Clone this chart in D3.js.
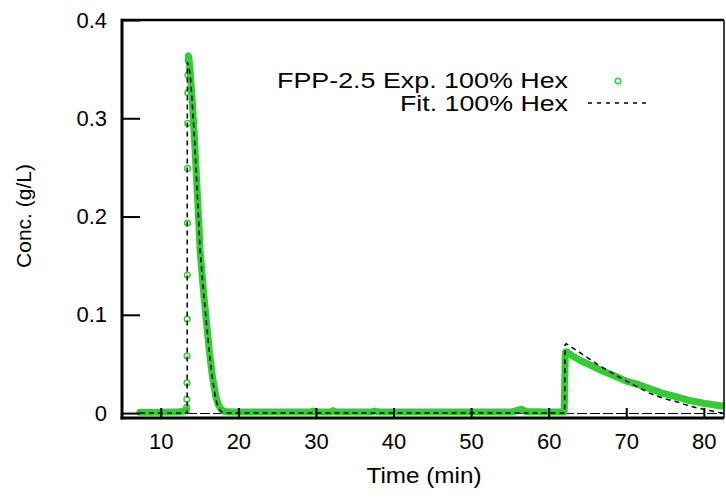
<!DOCTYPE html>
<html>
<head>
<meta charset="utf-8">
<script src="https://cdn.jsdelivr.net/npm/d3@7"></script>
<style>
  html, body { margin: 0; padding: 0; background: #fff; }
  svg { display: block; font-family: "Liberation Sans", Arial, Helvetica, sans-serif; }
</style>
</head>
<body>
<svg id="chart" width="726" height="499"></svg>
<script>
// ---- Data ----
// Experimental trace (dense samples that render as a thick band)
const expTime = [7.3, 8.5, 10.0, 11.5, 12.3, 12.8, 13.1, 13.3,
  13.55, 13.62, 13.8, 14.05, 14.35, 14.6, 14.86, 15.07, 15.46, 15.87, 16.3, 16.71, 17.09, 17.4, 17.74, 18.2,
  19.0, 25.0, 29.3, 29.7, 30.1, 31.8, 32.2, 32.6, 37.0, 37.6, 38.3, 45.0, 50.0, 55.2, 56.0, 56.5, 57.1, 60.0,
  62.0, 62.05, 62.1, 62.15, 62.3, 63.2, 64.2, 65.3, 66.9, 68.6, 70.0, 71.4, 73.0, 74.8, 76.5, 78.2, 80.0, 81.9, 82.6];
const expConc = [0.0008, 0.0008, 0.0008, 0.001, 0.0012, 0.0018, 0.0025, 0.003,
  0.3635, 0.362, 0.346, 0.318, 0.279, 0.240, 0.200, 0.165, 0.128, 0.094, 0.060, 0.034, 0.017, 0.009, 0.004, 0.0015,
  0.001, 0.001, 0.001, 0.0022, 0.001, 0.001, 0.0025, 0.001, 0.001, 0.002, 0.001, 0.001, 0.001, 0.001, 0.003, 0.004, 0.0015, 0.001,
  0.001, 0.020, 0.045, 0.062, 0.0625, 0.0575, 0.053, 0.049, 0.043, 0.0375, 0.0325, 0.0295, 0.025, 0.020, 0.0165, 0.0128, 0.010, 0.0078, 0.0068];
// Isolated experimental samples on the steep first rise
const riseTime = [13.33, 13.35, 13.37, 13.38, 13.40, 13.42, 13.43, 13.45, 13.47, 13.48, 13.50, 13.52];
const riseConc = [0.0058, 0.0142, 0.0308, 0.058, 0.0957, 0.1405, 0.1934, 0.249, 0.2949, 0.326, 0.3441, 0.359];
// Fitted model
const fitTime = [7.3, 13.40, 13.42, 13.6, 13.8, 14.05, 14.35, 14.6, 14.86, 15.07, 15.46, 15.87, 16.3, 16.71, 17.09, 17.4, 17.7, 18.1, 20.0,
  62.05, 62.1, 62.25, 62.5, 64.05, 66.4, 68.98, 71.36, 73.07, 74.8, 76.5, 78.2, 79.95, 81.9, 82.6];
const fitConc = [0, 0, 0.357, 0.354, 0.343, 0.316, 0.278, 0.240, 0.199, 0.165, 0.127, 0.093, 0.059, 0.032, 0.014, 0.006, 0.002, 0.0003, 0,
  0, 0.069, 0.0705, 0.0695, 0.0614, 0.049, 0.037, 0.027, 0.020, 0.015, 0.0115, 0.0071, 0.0038, 0.0007, 0.0];
const xTicks = [10, 20, 30, 40, 50, 60, 70, 80];
const yTicks = [0, 0.1, 0.2, 0.3, 0.4];
const legendLabels = ["FPP-2.5 Exp. 100% Hex", "Fit. 100% Hex"];
const xLabel = "Time (min)";
const yLabel = "Conc. (g/L)";

// ---- Layout ----
const W = 726, H = 499;
const L = 122, R = 724, T = 20, B = 418;
const green = "#33cc33";

const svg = d3.select("#chart");
const x = d3.scaleLinear().domain([5, 82.6]).range([L, R]);
const y = d3.scaleLinear().domain([-0.005, 0.4]).range([B, T]);

svg.append("defs").append("clipPath").attr("id", "clip")
  .append("rect").attr("x", L).attr("y", T).attr("width", R - L).attr("height", B - T);

const plot = svg.append("g").attr("clip-path", "url(#clip)");

// zero axis
const y0 = Math.round(y(0)) + 0.5;
plot.append("line")
  .attr("x1", L).attr("x2", R).attr("y1", y0).attr("y2", y0)
  .attr("stroke", "#000").attr("stroke-width", 1).attr("stroke-dasharray", "10,3");

// experimental band (split where the trace jumps vertically between samples)
const expPts = expTime.map((t, i) => [t, expConc[i]]);
const segments = [];
let cur = [];
expPts.forEach((p, i) => {
  if (i > 0 && Math.abs(y(p[1]) - y(expPts[i - 1][1])) > 60) { segments.push(cur); cur = []; }
  cur.push(p);
});
segments.push(cur);
const line = d3.line().x(d => x(d[0])).y(d => y(d[1]));
plot.selectAll("path.band").data(segments).join("path")
  .attr("class", "band")
  .attr("d", line)
  .attr("fill", "none").attr("stroke", green).attr("stroke-width", 7)
  .attr("stroke-linecap", "round").attr("stroke-linejoin", "round");

// isolated samples as open circles
plot.selectAll("circle.rise").data(riseTime.map((t, i) => [t, riseConc[i]])).join("circle")
  .attr("class", "rise")
  .attr("cx", d => x(d[0])).attr("cy", d => y(d[1])).attr("r", 2.8)
  .attr("fill", "none").attr("stroke", green).attr("stroke-width", 1.5);

// fit line
plot.append("path")
  .attr("d", line(fitTime.map((t, i) => [t, fitConc[i]])))
  .attr("fill", "none").attr("stroke", "#000").attr("stroke-width", 1.5)
  .attr("stroke-dasharray", "5,4");

// axes
const fontSize = 22;
const xAxis = svg.append("g").attr("transform", `translate(0,${B})`)
  .call(d3.axisBottom(x).tickValues(xTicks).tickSizeInner(-10).tickSizeOuter(0).tickPadding(15));
const yAxis = svg.append("g").attr("transform", `translate(${L},0)`)
  .call(d3.axisLeft(y).tickValues(yTicks).tickSizeInner(-18).tickSizeOuter(0).tickPadding(15)
    .tickFormat(d => d === 0 ? "0" : d3.format(".1f")(d)));
[xAxis, yAxis].forEach(g => {
  g.select(".domain").remove();
  g.selectAll(".tick line").attr("stroke", "#000").attr("stroke-width", 2);
  g.selectAll(".tick text").attr("fill", "#000").style("font-size", fontSize + "px")
    .style("font-family", "'Liberation Sans', Arial, sans-serif");
});

// frame
svg.append("line").attr("x1", L).attr("x2", R).attr("y1", T).attr("y2", T).attr("stroke", "#000").attr("stroke-width", 2.5);
svg.append("line").attr("x1", R).attr("x2", R).attr("y1", T).attr("y2", B).attr("stroke", "#000").attr("stroke-width", 1.5);
svg.append("line").attr("x1", L).attr("x2", L).attr("y1", T - 1.2).attr("y2", B + 1.5).attr("stroke", "#000").attr("stroke-width", 3);
svg.append("line").attr("x1", L - 1.5).attr("x2", R).attr("y1", B).attr("y2", B).attr("stroke", "#000").attr("stroke-width", 3);

// axis titles
svg.append("text").attr("x", 424).attr("y", 483).attr("text-anchor", "middle")
  .attr("textLength", 115).attr("lengthAdjust", "spacingAndGlyphs")
  .style("font-size", "22px").text(xLabel);
svg.append("text").attr("transform", `translate(31,216) rotate(-90)`)
  .attr("text-anchor", "middle").style("font-size", "21px").text(yLabel);

// legend
const lg = svg.append("g");
lg.append("text").attr("x", 568).attr("y", 88).attr("text-anchor", "end")
  .attr("textLength", 291).attr("lengthAdjust", "spacingAndGlyphs")
  .style("font-size", fontSize + "px").text(legendLabels[0]);
lg.append("text").attr("x", 568).attr("y", 111).attr("text-anchor", "end")
  .attr("textLength", 168).attr("lengthAdjust", "spacingAndGlyphs")
  .style("font-size", fontSize + "px").text(legendLabels[1]);
lg.append("circle").attr("cx", 618).attr("cy", 81).attr("r", 2.8)
  .attr("fill", "none").attr("stroke", green).attr("stroke-width", 1.5);
lg.append("line").attr("x1", 588).attr("x2", 650).attr("y1", 103).attr("y2", 103)
  .attr("stroke", "#000").attr("stroke-width", 1.5).attr("stroke-dasharray", "4,5");
</script>
</body>
</html>
